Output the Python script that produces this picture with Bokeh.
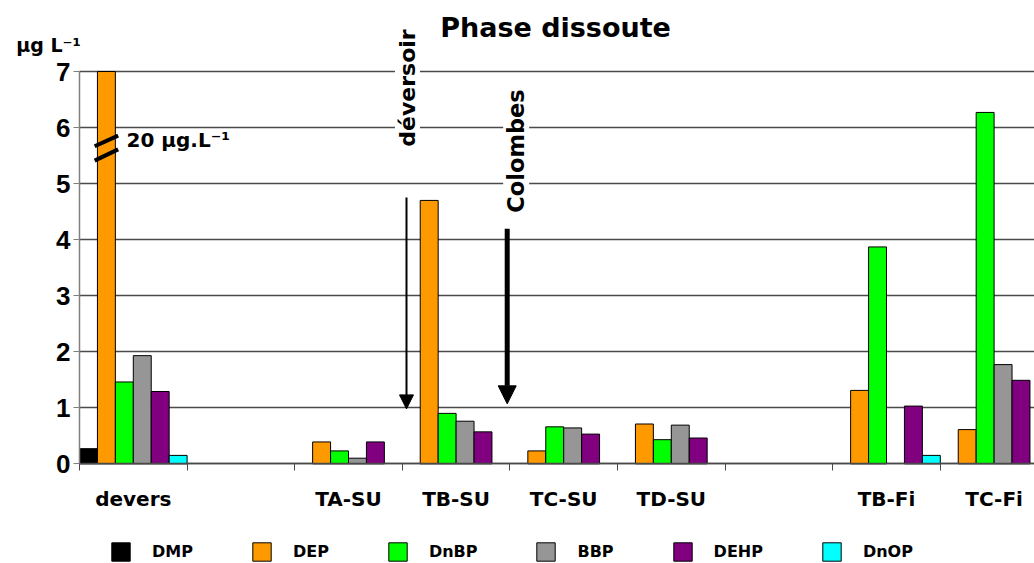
import math
from bokeh.plotting import figure
from bokeh.models import (Range1d, FixedTicker, Legend, LegendItem, Label, Arrow,
                          NormalHead, ColumnDataSource)
from bokeh.embed import file_html
from bokeh.resources import INLINE

nan = float("nan")

# ---- data ----
categories = ["devers", "", "TA-SU", "TB-SU", "TC-SU", "TD-SU", "", "TB-Fi", "TC-Fi"]
series = ["DMP", "DEP", "DnBP", "BBP", "DEHP", "DnOP"]
colors = ["#000000", "#FF9900", "#00FF00", "#969696", "#800080", "#00FFFF"]

DMP  = [0.27, nan, nan,  nan,  nan,  nan,  nan, nan,  nan]
DEP  = [20.0, nan, 0.39, 4.70, 0.23, 0.71, nan, 1.31, 0.61]
DnBP = [1.46, nan, 0.23, 0.90, 0.66, 0.43, nan, 3.87, 6.27]
BBP  = [1.93, nan, 0.10, 0.76, 0.64, 0.69, nan, nan,  1.77]
DEHP = [1.29, nan, 0.39, 0.57, 0.53, 0.46, nan, 1.03, 1.49]
DnOP = [0.15, nan, nan,  nan,  nan,  nan,  nan, 0.15, nan]
values = [DMP, DEP, DnBP, BBP, DEHP, DnOP]

y_ticks = [0, 1, 2, 3, 4, 5, 6, 7]
Y_MAX = 7  # axis is broken above 7 (the devers DEP value is 20 µg/L)

BOLD = "bold"
SANS = "DejaVu Sans"

# ---- geometry (the frame covers the whole canvas; axes sit at x=0 / y=0) ----
W, H = 1034, 563
AX_LEFT_PX, AX_ZERO_PX = 79.0, 463.3
SLOT_PX, UNIT_PX = 107.6, 56.04
x_range = Range1d(-AX_LEFT_PX / SLOT_PX, (W - AX_LEFT_PX) / SLOT_PX)
y_range = Range1d((AX_ZERO_PX - H) / UNIT_PX, AX_ZERO_PX / UNIT_PX)

p = figure(width=W, height=H, x_range=x_range, y_range=y_range,
           output_backend="svg", toolbar_location=None,
           min_border_left=0, min_border_right=0,
           min_border_top=0, min_border_bottom=0)
p.outline_line_color = None
p.background_fill_color = "white"
p.border_fill_color = "white"

n = len(series)
bw = 1.0 / n
renderers = []
for i, (name, vals, col) in enumerate(zip(series, values, colors)):
    xs = [k + (i + 0.5) * bw for k in range(len(categories))]
    shown = [min(v, Y_MAX) if v == v else nan for v in vals]
    src = ColumnDataSource(dict(x=xs, top=shown, value=vals))
    r = p.vbar(x="x", top="top", width=bw, bottom=0, source=src,
               fill_color=col, line_color="black", line_width=1)
    renderers.append((name, r))

x_end = x_range.end

# ---- axes ----
centers = [k + 0.5 for k, c in enumerate(categories) if c]
p.xaxis.fixed_location = 0
p.xaxis.bounds = (0, x_end)
p.xaxis.ticker = FixedTicker(ticks=centers,
                             minor_ticks=list(range(len(categories))))
p.xaxis.major_label_overrides = {k + 0.5: c for k, c in enumerate(categories) if c}
p.xaxis.major_tick_line_color = None
p.xaxis.major_tick_out = 0
p.xaxis.major_tick_in = 0
p.xaxis.minor_tick_out = 7
p.xaxis.minor_tick_in = 0
p.xaxis.minor_tick_line_color = "#4a4a4a"
p.xaxis.axis_line_color = "#4a4a4a"
p.xaxis.axis_line_width = 1.5
p.xaxis.major_label_standoff = 16
p.xaxis.major_label_text_font = SANS
p.xaxis.major_label_text_font_style = BOLD
p.xaxis.major_label_text_font_size = "20px"
p.xaxis.major_label_text_color = "black"

p.yaxis.fixed_location = 0
p.yaxis.bounds = (0, Y_MAX)
p.yaxis.ticker = FixedTicker(ticks=y_ticks)
p.yaxis.minor_tick_line_color = None
p.yaxis.major_tick_out = 6
p.yaxis.major_tick_in = 0
p.yaxis.major_tick_line_color = "#7f7f7f"
p.yaxis.axis_line_color = "#7f7f7f"
p.yaxis.axis_line_width = 1.5
p.yaxis.major_label_standoff = 3
p.yaxis.major_label_text_font = "Liberation Sans"
p.yaxis.major_label_text_font_style = BOLD
p.yaxis.major_label_text_font_size = "26px"
p.yaxis.major_label_text_color = "black"

p.xgrid.visible = False
p.ygrid.ticker = FixedTicker(ticks=y_ticks)
p.ygrid.bounds = (0, Y_MAX)
p.ygrid.cross_bounds = (0, x_end)
p.ygrid.grid_line_color = "#4a4a4a"
p.ygrid.grid_line_width = 1.5

# ---- legend (screen offsets from the frame's bottom-left) ----
legend = Legend(items=[LegendItem(label=nm, renderers=[r]) for nm, r in renderers],
                orientation="horizontal", location=(109, 0),
                glyph_width=23, glyph_height=23, label_standoff=20, spacing=57,
                padding=0, margin=0, border_line_color=None,
                background_fill_alpha=0,
                label_text_font=SANS, label_text_font_style=BOLD,
                label_text_font_size="16px", label_text_color="black")
p.add_layout(legend, "center")

# ---- texts ----
p.add_layout(Label(x=4.424, y=7.79, text="Phase dissoute", text_align="center",
                   text_baseline="alphabetic", text_font=SANS, text_font_style=BOLD,
                   text_font_size="27px", text_color="black"))
p.add_layout(Label(x=-0.288, y=7.47, text="µg L⁻¹", text_align="center",
                   text_baseline="alphabetic", text_font=SANS, text_font_style=BOLD,
                   text_font_size="19px", text_color="black"))

# broken bar marker on the devers DEP bar (value 20 µg/L)
cx = 0 + 1.5 * bw
p.segment(x0=[cx - 0.109, cx - 0.109], y0=[5.666, 5.41],
          x1=[cx + 0.109, cx + 0.109], y1=[5.857, 5.61],
          line_color="black", line_width=4)
p.add_layout(Label(x=cx + 0.187, y=5.773, text="20 µg.L⁻¹", text_align="left",
                   text_baseline="alphabetic", text_font=SANS, text_font_style=BOLD,
                   text_font_size="20px", text_color="black"))

# rotated annotations + arrows
p.add_layout(Label(x=3.048, y=6.706, text="déversoir", angle=math.pi / 2,
                   text_align="center", text_baseline="alphabetic",
                   text_font=SANS, text_font_style=BOLD, text_font_size="22px",
                   text_color="black", background_fill_color="white"))
p.add_layout(Label(x=4.058, y=5.582, text="Colombes", angle=math.pi / 2,
                   text_align="center", text_baseline="alphabetic",
                   text_font=SANS, text_font_style=BOLD, text_font_size="22.5px",
                   text_color="black", background_fill_color="white"))

p.add_layout(Arrow(end=NormalHead(size=14, fill_color="black", line_color="black"),
                   x_start=3.039, y_start=4.75, x_end=3.039, y_end=0.98,
                   line_color="black", line_width=2))
p.add_layout(Arrow(end=NormalHead(size=18, fill_color="black", line_color="black"),
                   x_start=3.975, y_start=4.196, x_end=3.975, y_end=1.07,
                   line_color="black", line_width=5))

open("out.html", "w").write(file_html(p, INLINE))
